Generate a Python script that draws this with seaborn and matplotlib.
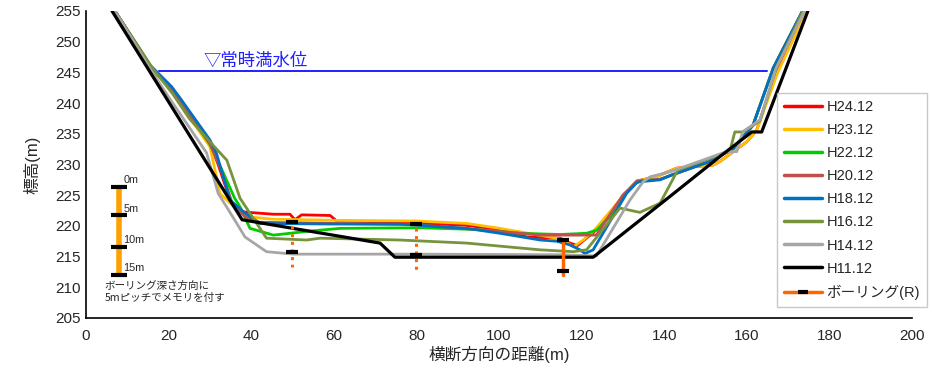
import numpy as np
import pandas as pd
import seaborn as sns
import matplotlib.pyplot as plt
from matplotlib.lines import Line2D

# survey years and colours
labels = ["H24.12", "H23.12", "H22.12", "H20.12", "H18.12", "H16.12", "H14.12", "H11.12"]
colors = ["#FF0000", "#FFC000", "#00CC00", "#C0504D", "#0070C0", "#77933C", "#A6A6A6", "#000000"]

# cross sections (distance m, elevation m)
h24_x = [7, 16, 20.5, 23, 30, 32, 35, 37.5, 45.4, 49.4, 50.6, 52.2, 59.1, 60.7, 76, 92, 100, 106.7, 114.8, 117.2, 119, 123, 129.3, 133.3, 138, 143, 151.8, 153.5, 160, 162.4, 167, 174.5]
h24_y = [255, 245.6, 242.5, 240.5, 233.5, 230, 224, 222.3, 221.9, 221.9, 221.0, 221.8, 221.7, 220.8, 220.6, 220.1, 219.4, 218.2, 218, 217.2, 216.8, 219, 224.2, 227.3, 228, 229.4, 229.9, 230.5, 233.7, 235.6, 245, 255]

h23_x = [7, 15.5, 19.9, 30, 31.6, 32.4, 34.9, 38.9, 45, 60, 80, 92.2, 100.2, 113.1, 115.5, 118, 120.4, 122.8, 129.3, 133.3, 138.2, 143, 151.8, 153.5, 160, 162.4, 167.5, 174.5]
h23_y = [255, 245.9, 242.7, 232.9, 228, 225.3, 223.7, 221.5, 221.1, 220.9, 220.8, 220.4, 219.6, 218.1, 217.7, 216.6, 217.7, 219.1, 224.2, 227.3, 228, 229.4, 229.9, 230.5, 233.7, 235.6, 245, 255]

h22_x = [7, 16, 21, 30, 33, 36, 37.3, 39.7, 45.4, 53.4, 61.5, 81, 95, 105, 114.8, 121.2, 123.6, 126.9, 130, 133.5, 139, 142, 151, 156.7, 161.5, 166.4, 173.5]
h22_y = [255, 245.6, 242, 233.3, 229, 224.5, 223.1, 219.6, 218.5, 219.1, 219.6, 219.7, 219.4, 218.8, 218.6, 218.8, 219.3, 221.5, 225, 227.3, 227.6, 228.3, 230.5, 232.6, 236.4, 245.7, 255]

h20_x = [7, 16, 21, 30, 32.5, 35.5, 38.5, 42, 60, 80, 100.2, 110, 119.6, 123.6, 126, 130, 133.5, 139, 151, 156.7, 161.5, 166.4, 173.5]
h20_y = [255, 245.6, 242.2, 233.4, 229.5, 223.5, 221.5, 220.6, 220.4, 220.2, 219.1, 218.5, 218.5, 218.5, 221, 225, 227.3, 227.6, 230.5, 232.6, 236.4, 245.7, 255]

h18_x = [7, 15.5, 20.7, 22.8, 30, 31.6, 34.9, 38.5, 42.1, 60, 76, 92.2, 100.2, 110, 114, 117.2, 119.6, 120.8, 122.8, 130.9, 133.3, 134.1, 139, 141.8, 151.1, 156.7, 161.5, 166.4, 173.5]
h18_y = [255, 246.2, 242.7, 240.8, 234, 231.8, 224.2, 222.1, 220.4, 220.3, 220.3, 219.6, 218.8, 217.7, 217.5, 216.9, 216.1, 215.5, 216.1, 225.3, 227, 227.2, 227.5, 228.3, 230.5, 232.6, 236.4, 245.7, 255]

h16_x = [7, 16.2, 21, 25, 30.4, 34.1, 37.3, 43.7, 53.4, 56.7, 76, 92.2, 110, 118, 121.2, 129.3, 134.1, 139, 143.3, 155.9, 157.1, 159, 163.2, 167.2, 173.6]
h16_y = [255, 245.6, 241.5, 237.5, 233.4, 230.7, 224.5, 218, 217.7, 218, 217.7, 217.2, 216.1, 215.8, 216.1, 222.9, 222.2, 223.7, 229.1, 232.2, 235.3, 235.3, 237.1, 245.9, 255]

h14_x = [7, 15.5, 20, 29.2, 32, 35.6, 38.5, 43.7, 50.2, 80, 115, 123.6, 131.7, 134.9, 136.6, 141.4, 155.1, 157.6, 159, 163.2, 167, 174]
h14_y = [255, 245.6, 241, 231.9, 225.3, 221.4, 218.2, 215.8, 215.4, 215.4, 215.3, 215.1, 224.2, 227.2, 228, 228.8, 232.1, 232.1, 235.3, 237.3, 245.5, 255]

h11_x = [6.3, 37.8, 71.2, 74.8, 122.8, 141.4, 153.5, 161.2, 163.6, 174.8]
h11_y = [255, 221, 217.2, 214.9, 214.9, 224.8, 231.3, 235.3, 235.3, 255]

series_x = [h24_x, h23_x, h22_x, h20_x, h18_x, h16_x, h14_x, h11_x]
series_y = [h24_y, h23_y, h22_y, h20_y, h18_y, h16_y, h14_y, h11_y]

# normal full water level
water_level = 245.2
water_x = [17.7, 165]

# boreholes
bore_x = [49.9, 79.9, 115.5]
bore_top = [220.7, 220.3, 217.7]
bore_mark = [215.7, 215.3, 212.7]
bore_end = [213.3, 212.8, 212.0]
bore_dotted = [True, True, False]

# depth scale (0, 5, 10, 15 m)
scale_x = 8.1
scale_y = [226.3, 221.7, 216.6, 212.0]
scale_labels = ["0m", "5m", "10m", "15m"]

sns.set_style("white")
plt.rcParams["font.family"] = ["Liberation Sans", "Noto Sans CJK JP", "DejaVu Sans"]

fig = plt.figure(figsize=(9.32, 3.74), dpi=100)
ax = fig.add_axes([86 / 932, 1 - 318 / 374, 826 / 932, 307 / 374])

for col, xs, ys in zip(colors, series_x, series_y):
    df = pd.DataFrame({"x": xs, "y": ys})
    sns.lineplot(data=df, x="x", y="y", sort=False, estimator=None, color=col,
                 lw=2.3 if col == "#000000" else 2.0, ax=ax, legend=False)

# water level
sns.lineplot(x=water_x, y=[water_level] * 2, color="#1F1FFF", lw=1.4, ax=ax, legend=False)
ax.text(28.5, water_level + 0.3, "▽常時満水位", color="#1F1FFF", fontsize=12.5,
        family=["Noto Sans CJK JP"], va="bottom", ha="left")

bore_col = "#FF6600"
for bx, bt, bm, be, dot in zip(bore_x, bore_top, bore_mark, bore_end, bore_dotted):
    if dot:
        ax.plot([bx, bx], [bt - 0.7, be], color=bore_col, lw=2.2, ls=(0, (1, 1.5)))
    else:
        ax.plot([bx, bx], [bt, be], color=bore_col, lw=2.5)
    ax.plot([bx, bx], [bt, bm], ls="none", marker="_", ms=9, mew=3, color="black")

# depth scale bar
ax.plot([scale_x, scale_x], [scale_y[0], scale_y[-1]], color="#FFA000", lw=4, solid_capstyle="butt")
ax.plot([scale_x] * 4, scale_y, ls="none", marker="_", ms=12, mew=3, color="black")
for sy, sl in zip(scale_y, scale_labels):
    ax.text(scale_x + 1.0, sy + 0.3, sl, fontsize=7.8, va="bottom", ha="left")
ax.text(4.5, 209.2, "ボーリング深さ方向に\n5mピッチでメモリを付す", fontsize=7.6,
        family=["Noto Sans CJK JP"], va="center", ha="left", linespacing=1.2)

ax.set_xlim(0, 200)
ax.set_ylim(205, 255)
ax.set_xticks(np.arange(0, 201, 20))
ax.set_yticks(np.arange(205, 256, 5))
ax.tick_params(axis="both", direction="in", length=4, color="#BBBBBB", labelsize=11)
ax.tick_params(axis="x", pad=8)
ax.set_xlabel("横断方向の距離(m)", fontsize=12, labelpad=2)
ax.set_ylabel("標高(m)", fontsize=12, labelpad=11)
for s in ["top", "right"]:
    ax.spines[s].set_visible(False)
for s in ["left", "bottom"]:
    ax.spines[s].set_color("black")
    ax.spines[s].set_linewidth(1.2)

handles = [Line2D([], [], color=c, lw=2.5) for c in colors]
handles.append(Line2D([], [], color=bore_col, lw=2.5, marker="_", ms=7, mew=3, mec="black"))
leg = fig.legend(handles, labels + ["ボーリング(R)"], loc="upper left",
                 bbox_to_anchor=(777 / 932, 1 - 93 / 374), borderaxespad=0,
                 frameon=True, fancybox=False, fontsize=10.5, handlelength=2.6,
                 labelspacing=0.62, borderpad=0.5, handletextpad=0.3)
leg.get_frame().set_edgecolor("#BBBBBB")
leg.get_frame().set_linewidth(1)

fig.savefig("out.png", dpi=100)
